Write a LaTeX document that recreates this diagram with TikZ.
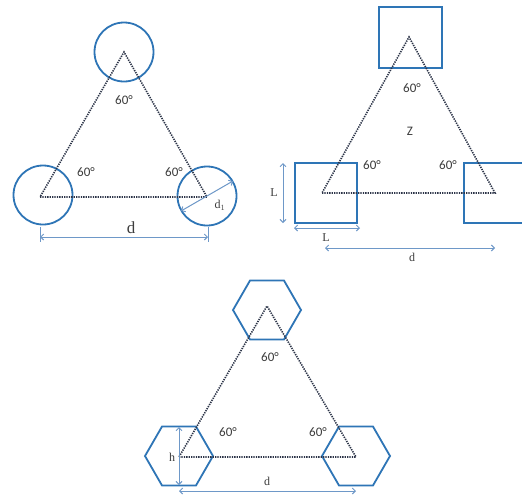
\documentclass[tikz,border=0pt]{standalone}
\usepackage{fontspec}
\setmainfont{Liberation Serif}
\newfontfamily\calib{Carlito}
\usetikzlibrary{shapes.geometric,arrows.meta}
\definecolor{shapeblue}{HTML}{2E75B6}
\definecolor{dimblue}{HTML}{6E98C8}
\definecolor{dotcol}{HTML}{2C3448}
\definecolor{txtgray}{HTML}{3C3C3C}
\tikzset{
  circ/.style={circle,draw=shapeblue,line width=1.8pt,minimum size=59pt,inner sep=0pt},
  sq/.style={rectangle,draw=shapeblue,line width=1.8pt,minimum width=62pt,minimum height=60pt,inner sep=0pt},
  hex/.style={regular polygon,regular polygon sides=6,draw=shapeblue,line width=1.8pt,minimum size=68pt,inner sep=0pt},
  dotline/.style={draw=dotcol,line width=1.6pt,dash pattern=on 1.3pt off 1.1pt},
  dimline/.style={draw=dimblue,line width=1pt,{Straight Barb[length=3pt,width=6pt]}-{Straight Barb[length=3pt,width=6pt]}},
  extline/.style={draw=dimblue,line width=1pt},
  ang/.style={font=\calib\fontsize{13}{14}\selectfont,text=txtgray,inner sep=0pt},
  lab/.style={font=\fontsize{12}{13}\selectfont,text=txtgray,inner sep=0pt}
}
\begin{document}
\begin{tikzpicture}[x=1pt,y=-1pt]
\useasboundingbox (0,0) rectangle (522,501);
\clip (0,0) rectangle (522,501);
\fill[white] (0,0) rectangle (522,501);
% ---------- Panel 1: circles ----------
\node[circ] (c1t) at (124,52) {};
\node[circ] (c1l) at (43,195) {};
\node[circ] (c1r) at (207,196) {};
\coordinate (p1a) at (40,197);
\coordinate (p1b) at (207,197);
\coordinate (p1c) at (124,52);
\draw[dotline] (p1a) -- (p1b) -- (p1c) -- cycle;
\node[ang] (a1t) at (124,100) {60°};
\node[ang] (a1l) at (86,172) {60°};
\node[ang] (a1r) at (174,172) {60°};
\coordinate (e1a) at (40,227);
\coordinate (e1b) at (40,242);
\coordinate (e1c) at (208,227);
\coordinate (e1d) at (208,242);
\draw[extline] (e1a) -- (e1b);
\draw[extline] (e1c) -- (e1d);
\coordinate (d1a) at (40,237);
\coordinate (d1b) at (208,237);
\draw[dimline] (d1a) -- (d1b);
\node[font=\fontsize{17}{18}\selectfont,text=txtgray,inner sep=0pt] (dl1) at (131,228) {d};
\coordinate (dd1a) at (181,211);
\coordinate (dd1b) at (233,181);
\draw[dimline] (dd1a) -- (dd1b);
\node[lab] (dl1s) at (220,205) {d$_1$};
% ---------- Panel 2: squares ----------
\node[sq,minimum width=63pt,minimum height=61pt] (s2t) at (410.5,37.5) {};
\node[sq] (s2l) at (326,193) {};
\node[sq] (s2r) at (495,193) {};
\coordinate (p2a) at (322,193);
\coordinate (p2b) at (495,193);
\coordinate (p2c) at (409,37);
\draw[dotline] (p2a) -- (p2b) -- (p2c) -- cycle;
\node[ang] (a2t) at (412,88) {60°};
\node[ang] (a2l) at (372,165) {60°};
\node[ang] (a2r) at (448,165) {60°};
\node[ang] (z2) at (410,131) {Z};
\coordinate (L2a) at (283,163);
\coordinate (L2b) at (283,223);
\draw[dimline] (L2a) -- (L2b);
\node[lab] (Lv) at (274,193) {L};
\coordinate (L2c) at (294,228);
\coordinate (L2d) at (360,228);
\draw[dimline] (L2c) -- (L2d);
\node[lab] (Lh) at (326,238) {L};
\coordinate (d2a) at (325,248);
\coordinate (d2b) at (495,248);
\draw[dimline] (d2a) -- (d2b);
\node[lab] (dl2) at (412,257) {d};
% ---------- Panel 3: hexagons ----------
\node[hex] (h3t) at (267,310) {};
\node[hex] (h3l) at (179,456) {};
\node[hex] (h3r) at (356,456) {};
\coordinate (p3a) at (179,457);
\coordinate (p3b) at (356,457);
\coordinate (p3c) at (267,306);
\draw[dotline] (p3a) -- (p3b) -- (p3c) -- cycle;
\node[ang] (a3t) at (270,357) {60°};
\node[ang] (a3l) at (228,432) {60°};
\node[ang] (a3r) at (318,432) {60°};
\coordinate (h3a) at (179,427);
\coordinate (h3b) at (179,485);
\draw[dimline] (h3a) -- (h3b);
\node[lab] (hl) at (172,457) {h};
\coordinate (d3a) at (179,491);
\coordinate (d3b) at (356,491);
\draw[dimline] (d3a) -- (d3b);
\node[lab] (dl3) at (267,481) {d};
\end{tikzpicture}
\end{document}
